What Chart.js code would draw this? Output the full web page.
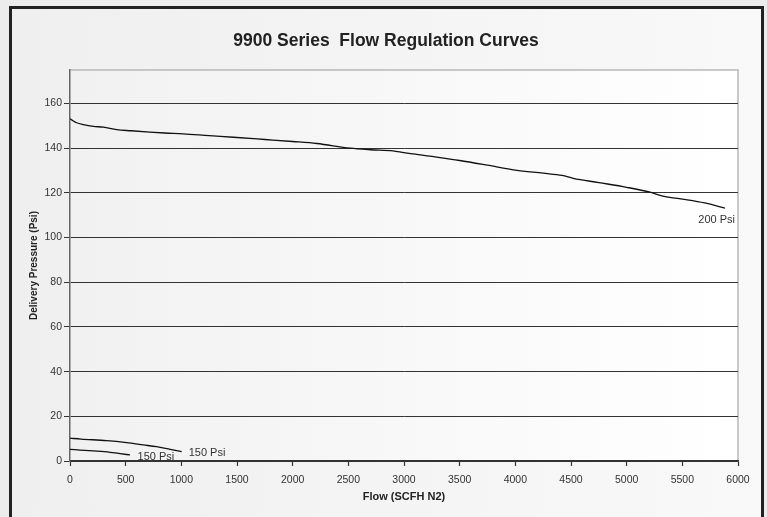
<!DOCTYPE html>
<html>
<head>
<meta charset="utf-8">
<title>9900 Series Flow Regulation Curves</title>
<script src="https://cdn.jsdelivr.net/npm/chart.js@4.4.1/dist/chart.umd.min.js"></script>
<style>
    html, body { margin: 0; padding: 0; background: #ececec; }
    #wrap { position: relative; width: 767px; height: 517px; overflow: hidden; }
    #frame {
        position: absolute; left: 9px; top: 6px; width: 749px; height: 509px;
        border-left: 3px solid #222; border-top: 3px solid #222; border-right: 3px solid #222;
        border-bottom: 1px solid #d8d8d8;
        background: linear-gradient(to right, #efefef, #f9f9f9);
    }
    canvas { position: absolute; left: 0; top: 0; }
</style>
</head>
<body>
<div id="wrap">
    <div id="frame"></div>
    <canvas id="chart" width="767" height="517"></canvas>
</div>
<script>
// Data
const flow200 = [0, 30, 60, 120, 210, 300, 420, 550, 718, 850, 1017, 1250, 1467, 1750, 2000, 2217, 2515, 2700, 2900, 3000, 3250, 3500, 3750, 4000, 4250, 4420, 4520, 4750, 5000, 5210, 5326, 5500, 5700, 5883];
const psi200  = [153.2, 152.2, 151.4, 150.6, 149.8, 149.4, 148.3, 147.8, 147.2, 146.8, 146.4, 145.6, 144.9, 143.9, 143.0, 142.1, 140.0, 139.3, 138.8, 138.0, 136.3, 134.5, 132.4, 130.2, 128.8, 127.8, 126.5, 124.6, 122.5, 120.3, 118.5, 117.2, 115.5, 113.2];

const flow150a = [0, 100, 330, 509, 658, 778, 900, 1003];
const psi150a  = [10.2, 9.8, 9.1, 8.2, 7.2, 6.4, 5.2, 4.2];

const flow150b = [0, 90, 210, 359, 450, 539];
const psi150b  = [5.2, 4.9, 4.5, 3.9, 3.3, 2.7];

const chartTitle = '9900 Series  Flow Regulation Curves';
const curveNames = ['200 Psi', '150 Psi', '150 Psi'];
const xTickStep = 500;
const yTicks = [0, 20, 40, 60, 80, 100, 120, 140, 160];

const toPoints = (xs, ys) => xs.map((x, i) => ({ x, y: ys[i] }));

// Plot area background + top/right border, and the title (centred on the frame)
const plotBackground = {
    id: 'plotBackground',
    beforeDraw(chart) {
        const { ctx, chartArea: a } = chart;
        ctx.save();
        const g = ctx.createLinearGradient(a.left, 0, a.right, 0);
        g.addColorStop(0, '#f1f1f1');
        g.addColorStop(1, '#ffffff');
        ctx.fillStyle = g;
        ctx.fillRect(a.left, a.top, a.right - a.left, a.bottom - a.top);
        ctx.strokeStyle = '#b8b8b8';
        ctx.lineWidth = 1.5;
        ctx.beginPath();
        ctx.moveTo(a.left, a.top);
        ctx.lineTo(a.right, a.top);
        ctx.lineTo(a.right, a.bottom);
        ctx.stroke();

        ctx.font = 'bold 17.5px "Liberation Sans", Arial, sans-serif';
        ctx.fillStyle = '#222';
        ctx.textAlign = 'center';
        ctx.textBaseline = 'middle';
        ctx.fillText(chartTitle, 386, 41.5);
        ctx.restore();
    }
};

// Curve name next to the last point of each curve
const labelOffsets = [
    { dx: 10, dy: 12, align: 'right' },
    { dx: 7, dy: 1.5, align: 'left' },
    { dx: 7.5, dy: 2.5, align: 'left' }
];
const curveLabels = {
    id: 'curveLabels',
    afterDatasetsDraw(chart) {
        const { ctx, scales } = chart;
        ctx.save();
        ctx.font = '11px "Liberation Sans", Arial, sans-serif';
        ctx.fillStyle = '#333';
        ctx.textBaseline = 'middle';
        chart.data.datasets.forEach((ds, i) => {
            const last = ds.data[ds.data.length - 1];
            const o = labelOffsets[i];
            ctx.textAlign = o.align;
            ctx.fillText(curveNames[i],
                scales.x.getPixelForValue(last.x) + o.dx,
                scales.y.getPixelForValue(last.y) + o.dy);
        });
        ctx.restore();
    }
};

const lineStyle = {
    borderColor: '#111',
    borderWidth: 1.3,
    pointRadius: 0,
    cubicInterpolationMode: 'monotone',
    fill: false
};

new Chart(document.getElementById('chart'), {
    type: 'line',
    data: {
        datasets: [
            { label: curveNames[0], data: toPoints(flow200, psi200), ...lineStyle },
            { label: curveNames[1], data: toPoints(flow150a, psi150a), ...lineStyle },
            { label: curveNames[2], data: toPoints(flow150b, psi150b), ...lineStyle }
        ]
    },
    options: {
        responsive: false,
        animation: false,
        layout: { padding: { left: 0, right: 29, top: 70, bottom: 0 } },
        plugins: {
            legend: { display: false },
            tooltip: { enabled: false },
            title: { display: false }
        },
        scales: {
            x: {
                type: 'linear',
                min: 0,
                max: 6000,
                afterFit: s => { s.height = 56; },
                ticks: {
                    stepSize: xTickStep,
                    autoSkip: false,
                    maxRotation: 0,
                    padding: 8,
                    color: '#333',
                    font: { family: '"Liberation Sans", Arial, sans-serif', size: 10.5 },
                    callback: v => String(v)
                },
                grid: { drawOnChartArea: false, drawTicks: true, tickLength: 5, tickColor: '#333', tickWidth: 1.2 },
                border: { color: '#333', width: 1.5 },
                title: {
                    display: true,
                    text: 'Flow (SCFH N2)',
                    color: '#222',
                    font: { family: '"Liberation Sans", Arial, sans-serif', size: 11, weight: 'bold' },
                    padding: { top: 0, bottom: 13 }
                }
            },
            y: {
                min: 0,
                max: 175,
                afterFit: s => { s.width = 70; },
                afterBuildTicks: s => { s.ticks = yTicks.map(v => ({ value: v })); },
                ticks: {
                    padding: 2,
                    color: '#333',
                    font: { family: '"Liberation Sans", Arial, sans-serif', size: 10.5 },
                    callback: v => String(v)
                },
                grid: { color: '#333', lineWidth: 1, drawTicks: true, tickLength: 6, tickColor: '#333' },
                border: { color: '#666', width: 1.5 },
                title: {
                    display: true,
                    text: 'Delivery Pressure (Psi)',
                    color: '#222',
                    font: { family: '"Liberation Sans", Arial, sans-serif', size: 10, weight: 'bold' },
                    padding: { top: 28, bottom: 0 }
                }
            }
        }
    },
    plugins: [plotBackground, curveLabels]
});
</script>
</body>
</html>
